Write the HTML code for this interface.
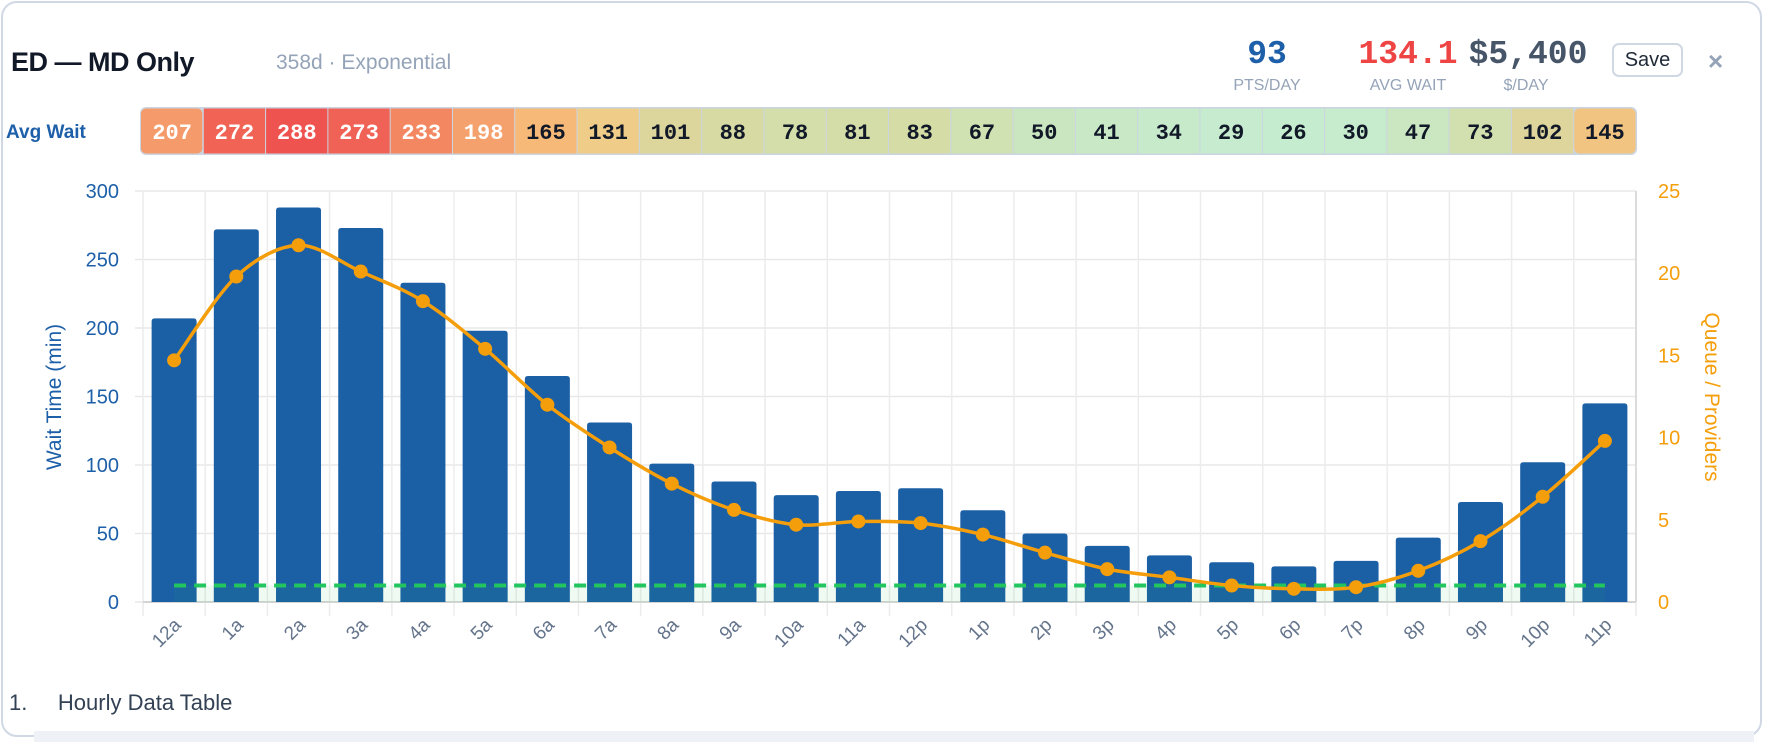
<!DOCTYPE html>
<html><head><meta charset="utf-8"><style>
body{margin:0;width:1766px;height:742px;background:#fff;font-family:"Liberation Sans",sans-serif;overflow:hidden;position:relative}
.card{position:absolute;left:1px;top:1px;width:1761px;height:736px;border:2px solid #cfd8e3;border-radius:16px;box-sizing:border-box}
.abs{position:absolute}
.mono{font-family:"Liberation Mono",monospace;font-weight:bold}
</style></head><body>
<div class="card"></div>
<div class="abs" style="left:11px;top:47px;font-size:27px;font-weight:bold;color:#111827;letter-spacing:-0.5px">ED — MD Only</div>
<div class="abs" style="left:276px;top:51px;font-size:21px;color:#94a3b8">358d · Exponential</div>
<div class="abs mono" style="left:1207px;width:120px;text-align:center;top:36px;font-size:33px;color:#1d5fa8">93</div>
<div class="abs" style="left:1207px;width:120px;text-align:center;top:77px;font-size:16px;color:#94a3b8">PTS/DAY</div>
<div class="abs mono" style="left:1338px;width:140px;text-align:center;top:36px;font-size:33px;color:#ef4444">134.1</div>
<div class="abs" style="left:1338px;width:140px;text-align:center;top:77px;font-size:16px;color:#94a3b8">AVG WAIT</div>
<div class="abs mono" style="left:1458px;width:140px;text-align:center;top:36px;font-size:33px;color:#475569">$5,400</div>
<div class="abs" style="left:1456px;width:140px;text-align:center;top:77px;font-size:16px;color:#94a3b8">$/DAY</div>
<div class="abs" style="left:1612px;top:43px;width:71px;height:34px;border:2px solid #cfd8e3;border-radius:7px;box-sizing:border-box;text-align:center;line-height:30px;font-size:20px;color:#1f2937">Save</div>
<div class="abs" style="left:1708px;top:46px;font-size:26px;color:#94a3b8;font-weight:bold">×</div>
<div class="abs" style="left:6px;top:122px;font-size:19px;font-weight:bold;color:#1d5fa8">Avg Wait</div>
<div class="abs" style="left:9px;top:690px;font-size:22px;color:#334155">1.&nbsp;&nbsp;&nbsp;&nbsp;&nbsp;Hourly Data Table</div>
<div class="abs" style="left:34px;top:731px;width:1720px;height:11px;background:#eef2f7"></div>
<svg class="abs" style="left:0;top:0" width="1766" height="742" id="svg"></svg>
<script>
const hours=["12a","1a","2a","3a","4a","5a","6a","7a","8a","9a","10a","11a","12p","1p","2p","3p","4p","5p","6p","7p","8p","9p","10p","11p"];
const waitValues=[207,272,288,273,233,198,165,131,101,88,78,81,83,67,50,41,34,29,26,30,47,73,102,145];
const queueValues=[14.7,19.8,21.7,20.1,18.3,15.4,12.0,9.4,7.2,5.6,4.7,4.9,4.8,4.1,3.0,2.0,1.5,1.0,0.8,0.9,1.9,3.7,6.4,9.8];
const providerValues=[1,1,1,1,1,1,1,1,1,1,1,1,1,1,1,1,1,1,1,1,1,1,1,1];
const leftTicks=[0,50,100,150,200,250,300];
const rightTicks=[0,5,10,15,20,25];
const NS="http://www.w3.org/2000/svg";
const svg=document.getElementById('svg');
const PL=143,PR=1636,PT=191,PB=602;
const bw=(PR-PL)/hours.length;
const xc=i=>PL+bw*(i+0.5);
const yL=v=>PB-(v/300)*(PB-PT);
const yR=v=>PB-(v/25)*(PB-PT);
function el(t,a,txt){const e=document.createElementNS(NS,t);for(const k in a)e.setAttribute(k,a[k]);if(txt!=null)e.textContent=txt;svg.appendChild(e);return e;}
function heatColor(v){
 const stops=[[26,[198,236,208]],[50,[202,230,192]],[80,[212,221,168]],[101,[220,213,156]],[131,[239,204,136]],[165,[246,185,120]],[207,[245,154,106]],[240,[243,130,96]],[288,[239,83,80]]];
 if(v<=stops[0][0])return 'rgb('+stops[0][1]+')';
 for(let i=1;i<stops.length;i++){if(v<=stops[i][0]){const a=stops[i-1],b=stops[i],t=(v-a[0])/(b[0]-a[0]);return 'rgb('+a[1].map((c,j)=>Math.round(c+(b[1][j]-c)*t))+')';}}
 return 'rgb('+stops[stops.length-1][1]+')';
}
const SL=141,SR=1636,ST=108,SB=154,cw=(SR-SL)/hours.length;
let hb=el('rect',{x:SL-1,y:ST-1,width:SR-SL+2,height:SB-ST+2,rx:6,fill:'#cbd5e1'});

waitValues.forEach((v,i)=>{
 const r=el('rect',{x:SL+i*cw+(i?0.5:0),y:ST+0.5,width:cw-1,height:SB-ST-1,fill:heatColor(v),rx:(i==0||i==hours.length-1)?5:0});
 
 
 const t=el('text',{x:SL+i*cw+cw/2,y:ST+31,'text-anchor':'middle','font-family':'Liberation Mono, monospace','font-weight':'bold','font-size':22,fill:v>=190?'#fff':'#111827'},v);
 
 
});
leftTicks.forEach(v=>{
 const g=el('line',{x1:PL-8,x2:PR,y1:yL(v),y2:yL(v),stroke:'#e8e8e8','stroke-width':1.5});
 
 const t=el('text',{x:119,y:yL(v)+7,'text-anchor':'end','font-size':20,fill:'#1d5fa8'},v);
 
});
for(let i=0;i<=hours.length;i++){
 const g=el('line',{x1:PL+i*bw,x2:PL+i*bw,y1:PT,y2:PB+14,stroke:'#ececec','stroke-width':1.5});
 
}
rightTicks.forEach(v=>{
 const t=el('text',{x:1658,y:yR(v)+7,'font-size':20,fill:'#f59e0b'},v);
 
});
let ax=el('line',{x1:PL,x2:PR,y1:PB,y2:PB,stroke:'#d4d4d4','stroke-width':2});

let ar=el('line',{x1:PR,x2:PR,y1:PT,y2:PB,stroke:'#d4d4d4','stroke-width':1.5});

waitValues.forEach((v,i)=>{
 const w=45;
 const b=el('path',{d:`M${xc(i)-w/2},${PB} V${yL(v)+3} q0,-3 3,-3 H${xc(i)+w/2-3} q3,0 3,3 V${PB} Z`,fill:'#1b5fa5'});
 
 
 const t=el('text',{transform:`translate(${xc(i)+8},${PB+24}) rotate(-45)`,'text-anchor':'end','font-size':19,fill:'#64748b'},hours[i]);
 
 
});
let fd=`M${xc(0)},${PB}`;providerValues.forEach((v,i)=>fd+=` L${xc(i)},${yR(v)}`);fd+=` L${xc(hours.length-1)},${PB} Z`;
let pf=el('path',{d:fd,fill:'rgba(34,197,94,0.08)'});

let pd='';providerValues.forEach((v,i)=>pd+=(i?' L':'M')+xc(i)+','+yR(v));
let pl=el('path',{d:pd,fill:'none',stroke:'#22c55e','stroke-width':4,'stroke-dasharray':'12,8'});

const pts=queueValues.map((v,i)=>[xc(i),yR(v)]);
let qd=`M${pts[0][0]},${pts[0][1]}`;
for(let i=0;i<pts.length-1;i++){
 const p0=pts[Math.max(0,i-1)],p1=pts[i],p2=pts[i+1],p3=pts[Math.min(pts.length-1,i+2)],k=0.16;
 qd+=` C${p1[0]+(p2[0]-p0[0])*k},${p1[1]+(p2[1]-p0[1])*k} ${p2[0]-(p3[0]-p1[0])*k},${p2[1]-(p3[1]-p1[1])*k} ${p2[0]},${p2[1]}`;
}
let ql=el('path',{d:qd,fill:'none',stroke:'#f59e0b','stroke-width':3.5});

pts.forEach((p,i)=>{
 const c=el('circle',{cx:p[0],cy:p[1],r:7,fill:'#f59e0b'});
 
 
});
let lt=el('text',{transform:'translate(61,397) rotate(-90)','text-anchor':'middle','font-size':21,fill:'#1d5fa8'},'Wait Time (min)');

let rt=el('text',{transform:'translate(1705,397) rotate(90)','text-anchor':'middle','font-size':21,fill:'#f59e0b'},'Queue / Providers');

</script>
</body></html>
